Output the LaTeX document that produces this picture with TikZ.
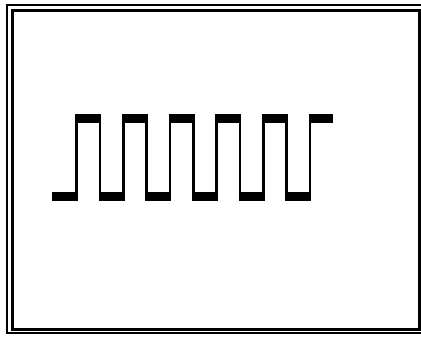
\documentclass[tikz,border=0pt]{standalone}
\usepackage{tikz}
\tikzset{
    x=1pt, y=-1pt, % one unit per pixel of the reference, y downwards
    frame outer/.style={line width=1.2pt}, % thin outer line of the frame
    frame inner/.style={line width=2.6pt}, % heavy inner line of the frame
    level/.style={line width=9pt}, % the flat parts of the pulse train
    edge line/.style={line width=2.7pt}, % the rising and falling edges
}

\begin{document}
\begin{tikzpicture}
    \useasboundingbox (0,0) rectangle (421,339);

    % double frame
    \draw[frame outer] (7,5) rectangle (428,333);
    \draw[frame inner] (12.5,10.5) rectangle (419.5,329.5);

    % edges of the square wave
    \coordinate (lo) at (0,197);
    \coordinate (hi) at (0,118.5);
    \foreach \k in {0,...,10}
        \draw[edge line] (76.5+23.35*\k,118.5) -- (76.5+23.35*\k,197);

    % low and high levels
    \draw[level] (52,197) -- (77.8,197);
    \foreach \k in {0,...,4}{
        \draw[level] (75.2+46.7*\k,118.5) -- (101.2+46.7*\k,118.5);
        \draw[level] (98.6+46.7*\k,197) -- (124.6+46.7*\k,197);
    }
    \draw[level] (308.7,118.5) -- (333,118.5);
\end{tikzpicture}
\end{document}
